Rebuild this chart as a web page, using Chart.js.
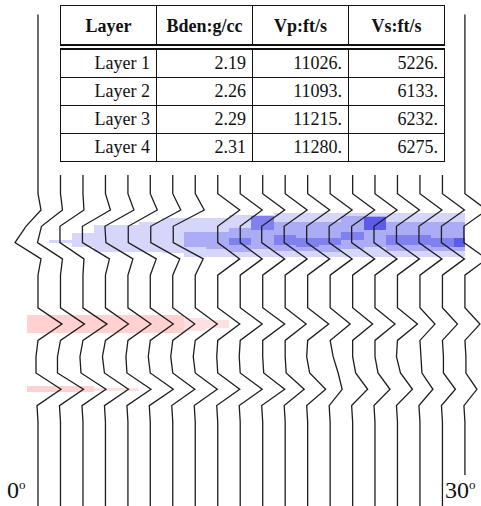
<!DOCTYPE html>
<html>
<head>
<meta charset="utf-8">
<script src="https://cdn.jsdelivr.net/npm/chart.js@4.4.1/dist/chart.umd.min.js"></script>
<style>
  html, body { margin: 0; padding: 0; background: #fff; }
  #wrap { position: relative; width: 481px; height: 506px; overflow: hidden; }
  #inset { position: absolute; left: 50px; top: 0; width: 405px; height: 175px; background: #fff; }
  #tbl { position: absolute; left: 10px; top: 5px; border-collapse: collapse; table-layout: fixed; width: 385px; }
  #tbl th, #tbl td { font-family: "Liberation Serif", "Times New Roman", Times, serif; font-size: 18px; color: #111;
                     border: 1.5px solid #111; padding: 0 6px 0 0; overflow: hidden; white-space: nowrap; }
  #tbl th { height: 35px; text-align: center; padding: 3px 0 0 0; border-bottom: 6px double #111; font-weight: bold; }
  #tbl td { height: 27px; text-align: right; }
  .lab { position: absolute; font-family: "Liberation Serif", "Times New Roman", Times, serif; font-size: 24px;
         color: #111; background: #fff; line-height: 31px; }
  .lab sup { font-size: 13px; vertical-align: 9px; line-height: 0; }
</style>
</head>
<body>
<div id="wrap">
  <canvas id="gather" width="481" height="506"></canvas>
  <div id="inset"><table id="tbl"></table></div>
  <div class="lab" style="left:0px; top:475px; padding:0 4px 0 7px;">0<sup>o</sup></div>
  <div class="lab" style="left:444px; top:475px; width:37px; padding-left:1px;">30<sup>o</sup></div>
</div>
<script>
/* ===== DATA ===== */

// table
const tableHeaders = ['Layer', 'Bden:g/cc', 'Vp:ft/s', 'Vs:ft/s'];
const layerNames = ['Layer 1', 'Layer 2', 'Layer 3', 'Layer 4'];
const bden = ['2.19', '2.26', '2.29', '2.31'];
const vp = ['11026.', '11093.', '11215.', '11280.'];
const vs = ['5226.', '6133.', '6232.', '6275.'];

// incidence angle of each trace (deg)
const angles = [0, 1.58, 3.16, 4.74, 6.32, 7.89, 9.47, 11.05, 12.63, 14.21,
                15.79, 17.37, 18.95, 20.53, 22.11, 23.68, 25.26, 26.84, 28.42, 30];

// sample times (ms)
const sampleTimes = [0, 4, 8, 12, 16, 20, 24, 28, 32, 36, 40, 44, 48, 52, 56, 60,
                     64, 68, 72, 76, 80, 84, 88, 92, 96, 100, 104, 108, 112, 116, 120, 124];

// trace amplitudes for samples 44..100 ms, everything else is zero
const EVENT_FIRST = 11;
const traceAmps = [
  [0,  3, -12, -23,  3, 0, 0, 0, 24, 0, -2, -2, 23, -1, 0],
  [0,  2, -19, -23,  2, 0, 0, 0, 24, 0, -3, -3, 23, -1, 0],
  [0,  1, -23, -23,  1, 0, 0, 0, 24, 0, -3, -2, 23, -1, 0],
  [0,  5, -23, -23,  4, 0, 0, 0, 23, 0, -3, -1, 23, -1, 0],
  [0,  6, -23, -22,  5, 0, 0, 0, 23, 0, -2, -1, 23, -1, 0],
  [0,  7, -22, -22,  6, 0, 0, 0, 23, 0, -2,  0, 23, -1, 0],
  [0,  8, -22, -22,  7, 0, 0, 0, 22, 0, -2,  0, 22, -1, 0],
  [0,  9, -22, -22,  8, 0, 0, 0, 22, 0, -2,  0, 22, -1, 0],
  [0, 22,   0,   0, 22, 0, 0, 0, 22, 0, -1,  0, 22, -1, 0],
  [0, 22,   0,   0, 22, 0, 0, 0, 22, 0, -1,  0, 22, -1, 0],
  [0, 22,  -1,  -1, 22, 0, 0, 0, 22, 0,  0,  1, 22, -1, 0],
  [0, 22,  -1,  -1, 22, 0, 0, 0, 21, 0,  0,  1, 19, -1, 0],
  [0, 22,  -1,  -1, 22, 0, 0, 0, 21, 0, -1,  2, 18, -1, 0],
  [0, 22,  -1,  -1, 22, 0, 0, 0, 20, 0,  3,  8, 12, -1, 0],
  [0, 22,  -1,  -1, 22, 0, 0, 0, 20, 0,  0,  3, 15, -1, 0],
  [0, 22,  -1,  -1, 22, 0, 0, 0, 20, 0,  0,  3, 15, -1, 0],
  [0, 22,  -1,  -1, 22, 0, 0, 0, 20, 0, -1,  3, 15, -1, 0],
  [0, 22,  -1,  -1, 22, 0, 0, 0, 15, 0,  1,  2, 13, -1, 0],
  [0, 22,  -1,  -1, 22, 0, 0, 0, 15, 0,  1,  1, 13, -1, 0],
  [0, 22,  -1,  -1, 22, 0, 0, 0, 15, 0,  1,  1, 12, -1, 0],
];

// reflection-strength shading: [trace, from ms, to ms, level]
const blueCells = [
  [1, 55.4, 56.2, 0], [2, 53.6, 57.1, 0], [3, 51.7, 58.3, 0], [4, 51.7, 58.3, 0],
  [5, 50.9, 58.3, 0], [6, 50.0, 58.6, 0],
  [7, 49.9, 59.5, 0], [7, 53.4, 57.1, 1],
  [8, 49.9, 59.5, 0], [8, 53.4, 57.6, 1],
  [9, 49.2, 59.5, 0], [9, 52.4, 58.3, 1], [9, 54.9, 56.6, 2],
  [10, 49.2, 59.5, 0], [10, 50.5, 57.6, 1], [10, 49.5, 53.0, 2],
  [11, 48.7, 59.5, 0], [11, 50.9, 58.0, 1], [11, 54.1, 56.6, 2],
  [12, 48.7, 59.5, 0], [12, 50.9, 58.0, 1], [12, 54.9, 57.1, 2],
  [13, 48.7, 59.5, 0], [13, 50.9, 58.3, 1], [13, 54.9, 56.6, 2],
  [14, 48.7, 59.5, 0], [14, 49.5, 57.6, 1], [14, 53.4, 55.4, 2],
  [15, 48.7, 59.5, 0], [15, 49.5, 57.1, 1], [15, 49.8, 53.0, 3],
  [16, 48.7, 59.5, 0], [16, 50.9, 58.0, 1], [16, 54.1, 56.6, 2],
  [17, 48.7, 59.5, 0], [17, 50.9, 58.0, 1], [17, 54.1, 56.6, 2],
  [18, 48.7, 59.5, 0], [18, 50.9, 58.0, 1], [18, 54.9, 57.1, 2],
  [19, 48.7, 59.5, 0], [19, 50.9, 58.0, 1], [19, 54.9, 57.1, 3],
];

const redCells = [
  [0, 73.8, 78.2, 0], [1, 73.8, 78.2, 0], [2, 73.8, 78.2, 0], [3, 73.8, 78.2, 0],
  [4, 73.8, 78.2, 0], [5, 73.8, 78.2, 0], [6, 73.8, 78.2, 0],
  [7, 74.5, 77.6, 1], [8, 75.0, 77.0, 1],
  [0, 91.2, 92.7, 0], [1, 91.2, 92.7, 0], [2, 91.2, 92.7, 0],
  [3, 91.7, 92.4, 1], [4, 91.7, 92.4, 1],
];

/* ===== HELPERS ===== */

const AMP_SCALE = 0.0703;   // deg of offset per amplitude unit
const HALF_COL = 0.79;      // half trace spacing, deg
const blueLevels = ['#d6d6fb', '#acacf6', '#8080f0', '#5c5cea'];
const redLevels = ['#ffd1d1', '#ffe0e0'];

function traceData(k) {
  const amps = traceAmps[k];
  return sampleTimes.map((t, i) => {
    const j = i - EVENT_FIRST;
    const a = (j >= 0 && j < amps.length) ? amps[j] : 0;
    return { x: angles[k] + a * AMP_SCALE, y: t };
  });
}

const shadingPlugin = {
  id: 'shading',
  beforeDatasetsDraw(chart) {
    const { ctx, scales: { x, y } } = chart;
    const draw = (cells, levels) => {
      cells.forEach(([k, t0, t1, lv]) => {
        const l = Math.round(x.getPixelForValue(angles[k] - HALF_COL));
        const r = Math.round(x.getPixelForValue(Math.min(angles[k] + HALF_COL, angles[angles.length - 1])));
        const top = Math.round(y.getPixelForValue(t0));
        const bot = Math.round(y.getPixelForValue(t1));
        ctx.fillStyle = levels[lv];
        ctx.fillRect(l, top, r - l, bot - top);
      });
    };
    ctx.save();
    draw(blueCells, blueLevels);
    draw(redCells, redLevels);
    ctx.restore();
  }
};

/* ===== TABLE ===== */

(function() {
  const tbl = document.getElementById('tbl');
  const head = tbl.insertRow();
  tableHeaders.forEach(h => {
    const th = document.createElement('th');
    th.textContent = h;
    head.appendChild(th);
  });
  layerNames.forEach((name, i) => {
    const row = tbl.insertRow();
    [name, bden[i], vp[i], vs[i]].forEach(v => { row.insertCell().textContent = v; });
  });
})();

/* ===== GATHER ===== */

(function() {
  const ctx = document.getElementById('gather');
  new Chart(ctx, {
    type: 'scatter',
    data: {
      datasets: angles.map((a, k) => ({
        label: a + '°',
        data: traceData(k),
        showLine: true,
        borderColor: '#1e1e1e',
        borderWidth: 1.3,
        pointRadius: 0,
        tension: 0,
      }))
    },
    options: {
      responsive: false,
      devicePixelRatio: 1,
      animation: false,
      layout: { padding: 0 },
      plugins: { legend: { display: false }, tooltip: { enabled: false } },
      scales: {
        x: { type: 'linear', display: false, min: -2.67, max: 31.13 },
        y: { type: 'linear', display: false, reverse: true, min: -3.53, max: 120.64 }
      }
    },
    plugins: [shadingPlugin]
  });
})();
</script>
</body>
</html>
